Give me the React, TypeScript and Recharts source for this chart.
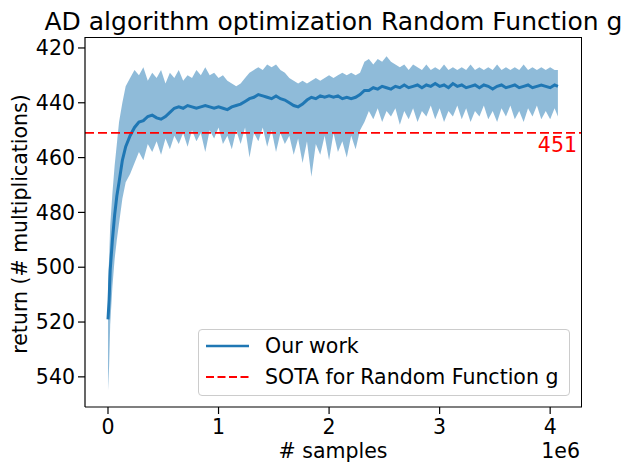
import { ComposedChart, Area, Line, XAxis, YAxis, ReferenceLine } from 'recharts';

// samples in units of 1e6
const samples = [
    0, 0.01, 0.02, 0.04, 0.06, 0.08, 0.1, 0.13, 0.16, 0.2, 0.24, 0.28,
    0.32, 0.36, 0.4, 0.44, 0.48, 0.52, 0.56, 0.6, 0.64, 0.68, 0.72, 0.76,
    0.8, 0.84, 0.88, 0.92, 0.96, 1.0, 1.04, 1.08, 1.12, 1.16, 1.2, 1.24,
    1.28, 1.32, 1.36, 1.4, 1.44, 1.48, 1.52, 1.56, 1.6, 1.64, 1.68, 1.72,
    1.76, 1.8, 1.84, 1.88, 1.92, 1.96, 2.0, 2.04, 2.08, 2.12, 2.16, 2.2,
    2.24, 2.28, 2.32, 2.36, 2.4, 2.44, 2.48, 2.52, 2.56, 2.6, 2.64, 2.68,
    2.72, 2.76, 2.8, 2.84, 2.88, 2.92, 2.96, 3.0, 3.04, 3.08, 3.12, 3.16,
    3.2, 3.24, 3.28, 3.32, 3.36, 3.4, 3.44, 3.48, 3.52, 3.56, 3.6, 3.64,
    3.68, 3.72, 3.76, 3.8, 3.84, 3.88, 3.92, 3.96, 4.0, 4.04, 4.07,
];

const meanReturn = [
    519, 512, 501, 490, 481, 474, 469, 461, 456, 452, 449, 447,
    446.5, 445, 444.5, 445.5, 446, 445, 443.5, 442, 441.5, 442, 441, 441.5,
    442, 441.5, 441, 441.5, 442, 441.5, 442, 442.5, 441.5, 441, 440.5, 439.5,
    438.5, 438, 437, 437.5, 438, 438.5, 437.5, 438.5, 439, 440, 441, 441.5,
    440.5, 439, 438, 438.5, 437.5, 438, 437.5, 438, 437.5, 438.5, 438, 438.5,
    438, 437, 435.5, 435.5, 434.5, 435, 434, 434.5, 435, 434, 434.5, 433.5,
    434.5, 434, 433.5, 434.5, 433.5, 434, 433, 434, 433.5, 434.5, 433, 434,
    433.5, 434.5, 434, 433.5, 434.5, 433.5, 434, 435, 434, 433.5, 434.5, 434,
    433.5, 434.5, 434, 433.5, 434.5, 434, 433.5, 434, 434.5, 433.5, 434,
];

// upper edge of the shaded band (smaller return, drawn higher)
const bandTop = [
    506, 497, 485, 473, 463, 455, 447, 440, 434, 431, 428, 430,
    427, 432, 429, 431, 428, 433, 429, 431, 428, 432, 430, 431,
    428, 430, 427, 430, 429, 431, 430, 432, 433, 434, 433, 431,
    429, 428, 427, 428, 426, 427, 426, 428, 429, 431, 432, 433,
    432, 433, 432, 431, 432, 431, 430, 431, 430, 429, 430, 429,
    430, 429, 425, 424, 426, 424, 425, 423, 425, 426, 427, 426,
    428, 426, 427, 428, 426, 428, 427, 428, 426, 428, 427, 428,
    427, 428, 426, 428, 427, 428, 427, 428, 426, 428, 427, 428,
    427, 428, 426, 428, 427, 428, 427, 428, 427, 428, 428,
];

// lower edge of the shaded band
const bandBottom = [
    545, 536, 521, 507, 497, 490, 484, 475, 469, 466, 462, 458,
    461, 455, 458, 454, 459, 453, 457, 452, 455, 451, 456, 450,
    454, 451, 458, 450, 453, 449, 455, 452, 457, 450, 455, 449,
    460, 451, 454, 449, 456, 450, 458, 451, 455, 452, 459, 453,
    462, 454, 467, 455, 459, 452, 461, 451, 458, 454, 460, 452,
    457, 450, 447, 443, 446, 442, 447, 443, 445, 442, 448, 443,
    446, 442, 447, 443, 445, 441, 446, 442, 447, 443, 445, 441,
    446, 442, 447, 443, 445, 441, 446, 443, 447, 442, 445, 441,
    446, 443, 447, 442, 445, 441, 446, 443, 446, 442, 445,
];

const xTicks = [0, 1, 2, 3, 4];
const yTicks = [420, 440, 460, 480, 500, 520, 540];
const sotaValue = 451;

const rows = samples.map((x, i) => ({
    x,
    mean: meanReturn[i],
    band: [bandTop[i], bandBottom[i]],
}));

const FONT = '"DejaVu Sans", sans-serif';
const BLUE = '#1f77b4';
const TICK = { fill: '#000', fontSize: 20.5, fontFamily: FONT };

export default function App() {
    return (
        <div style={{
            position: 'absolute', left: 0, top: 0, width: 632, height: 472,
            background: '#fff', overflow: 'hidden', fontFamily: FONT, color: '#000',
        }}>
            <ComposedChart
                width={632}
                height={472}
                data={rows}
                margin={{ top: 37, right: 50, bottom: 0, left: 25 }}
            >
                <XAxis
                    dataKey="x"
                    type="number"
                    domain={[-0.208, 4.288]}
                    ticks={xTicks}
                    allowDataOverflow
                    height={65}
                    tickSize={7}
                    tickMargin={5}
                    tick={TICK}
                    axisLine={{ stroke: '#000', strokeWidth: 1.2 }}
                    tickLine={{ stroke: '#000', strokeWidth: 1.2 }}
                />
                <YAxis
                    type="number"
                    reversed
                    domain={[416, 551]}
                    ticks={yTicks}
                    allowDataOverflow
                    width={60}
                    tickSize={7}
                    tickMargin={3}
                    tick={TICK}
                    axisLine={{ stroke: '#000', strokeWidth: 1.2 }}
                    tickLine={{ stroke: '#000', strokeWidth: 1.2 }}
                />
                <Area
                    dataKey="band"
                    type="linear"
                    stroke="none"
                    fill={BLUE}
                    fillOpacity={0.5}
                    isAnimationActive={false}
                />
                <Line
                    dataKey="mean"
                    type="linear"
                    stroke={BLUE}
                    strokeWidth={3}
                    dot={false}
                    isAnimationActive={false}
                />
                <ReferenceLine
                    y={sotaValue}
                    stroke="#ff0000"
                    strokeWidth={1.8}
                    strokeDasharray="9 4"
                    label={{
                        value: String(sotaValue),
                        position: 'insideTopRight',
                        fill: '#ff0000',
                        fontSize: 20.5,
                        fontFamily: FONT,
                        offset: 5,
                    }}
                />
            </ComposedChart>

            {/* axes frame (top and right spines) */}
            <div style={{
                position: 'absolute', left: 85, top: 37, width: 497, height: 370,
                boxSizing: 'border-box', borderTop: '1.2px solid #000', borderRight: '1.2px solid #000',
                pointerEvents: 'none',
            }} />

            {/* title */}
            <div style={{
                position: 'absolute', left: 33, width: 601, top: 9, textAlign: 'center',
                fontSize: 25, lineHeight: '25px', whiteSpace: 'nowrap',
            }}>
                AD algorithm optimization Random Function g
            </div>

            {/* y label */}
            <div style={{
                position: 'absolute', left: 20, top: 224, width: 0, height: 0,
            }}>
                <div style={{
                    position: 'absolute', left: -200, top: -12, width: 400, textAlign: 'center',
                    fontSize: 20.5, lineHeight: '24px', whiteSpace: 'nowrap', transform: 'rotate(-90deg)',
                }}>
                    return (# multiplications)
                </div>
            </div>

            {/* x label + offset text */}
            <div style={{
                position: 'absolute', left: 233, width: 200, top: 439, textAlign: 'center',
                fontSize: 20.5, lineHeight: '24px',
            }}>
                # samples
            </div>
            <div style={{
                position: 'absolute', left: 480, width: 100, top: 439, textAlign: 'right',
                fontSize: 20.5, lineHeight: '24px',
            }}>
                1e6
            </div>

            {/* legend */}
            <div style={{
                position: 'absolute', left: 198, top: 329, width: 372, height: 67,
                boxSizing: 'border-box', border: '1px solid #cccccc', borderRadius: 4,
                background: 'rgba(255,255,255,0.8)', fontSize: 20.5,
            }}>
                <svg width={50} height={67} style={{ position: 'absolute', left: 0, top: 0 }}>
                    <line x1={7} x2={50} y1={16} y2={16} stroke={BLUE} strokeWidth={2.5} />
                    <line x1={7} x2={50} y1={47} y2={47} stroke="#ff0000" strokeWidth={2} strokeDasharray="8 3.5" />
                </svg>
                <div style={{ position: 'absolute', left: 66, top: 4, lineHeight: '24px', whiteSpace: 'nowrap' }}>
                    Our work
                </div>
                <div style={{ position: 'absolute', left: 66, top: 35, lineHeight: '24px', whiteSpace: 'nowrap' }}>
                    SOTA for Random Function g
                </div>
            </div>
        </div>
    );
}
